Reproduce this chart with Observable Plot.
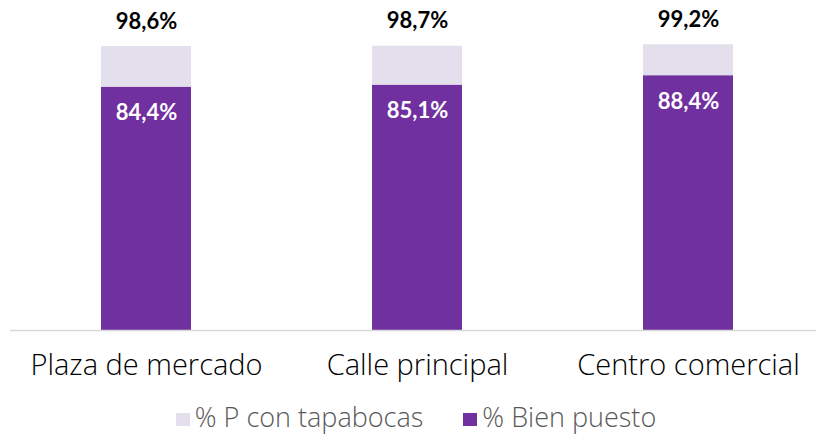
<!DOCTYPE html>
<html>
<head>
<meta charset="utf-8">
<script src="https://cdn.jsdelivr.net/npm/d3@7"></script>
<script src="https://cdn.jsdelivr.net/npm/@observablehq/plot@0.6"></script>
<style>
  html, body { margin: 0; padding: 0; background: #fff; }
  #chart { width: 816px; height: 435px; overflow: hidden; }
  .legend { box-sizing: border-box; display: flex; justify-content: center; align-items: center; height: 37px;
            font-family: "Open Sans", sans-serif; font-weight: 300; font-size: 27px; line-height: 30px; color: #595959; padding-left: 16px; padding-top: 1px; }
  .legend .item { display: flex; align-items: center; margin: 0 20px; }
  .legend .sw { width: 14px; height: 13px; margin-right: 5px; margin-top: 4px; }
</style>
</head>
<body>
<div id="chart"></div>
<script>
const categories = ["Plaza de mercado", "Calle principal", "Centro comercial"];
const conTapabocas = [98.6, 98.7, 99.2];
const bienPuesto = [84.4, 85.1, 88.4];
const seriesNames = ["% P con tapabocas", "% Bien puesto"];
const seriesColors = ["#e4dfec", "#7030a0"];

const fmt = v => v.toFixed(1).replace(".", ",") + "%";
const rows = categories.map((c, i) => ({cat: c, total: conTapabocas[i], bien: bienPuesto[i]}));

const plot = Plot.plot({
  width: 816,
  height: 398,
  marginTop: 42,
  marginBottom: 68,
  marginLeft: 10,
  marginRight: 0,
  style: {fontFamily: "Open Sans, sans-serif", background: "#fff"},
  x: {domain: categories, paddingInner: 0.668, paddingOuter: 0.321, align: 0.523, label: null},
  y: {domain: [0, 100], axis: null},
  marks: [
    Plot.barY(rows, {x: "cat", y: "total", fill: seriesColors[0]}),
    Plot.barY(rows, {x: "cat", y: "bien", fill: seriesColors[1]}),
    Plot.ruleY([0], {stroke: "#d9d9d9", strokeWidth: 1.5}),
    Plot.axisX({tickSize: 0, tickPadding: 24, fontSize: 29, fontWeight: 300, fill: "#000", label: null}),
    Plot.text(rows, {x: "cat", y: "total", text: d => fmt(d.total), dy: -25, fontSize: 22, fontWeight: "bold", fontFamily: "Lato, sans-serif", fill: "#000"}),
    Plot.text(rows, {x: "cat", y: "bien", text: d => fmt(d.bien), dy: 26, fontSize: 22, fontWeight: "bold", fontFamily: "Lato, sans-serif", fill: "#fff"})
  ]
});
const chart = document.getElementById("chart");
chart.appendChild(plot);

const legend = document.createElement("div");
legend.className = "legend";
seriesNames.forEach((name, i) => {
  const item = document.createElement("div");
  item.className = "item";
  const sw = document.createElement("span");
  sw.className = "sw";
  sw.style.background = seriesColors[i];
  const label = document.createElement("span");
  label.textContent = name;
  item.appendChild(sw);
  item.appendChild(label);
  legend.appendChild(item);
});
chart.appendChild(legend);
</script>
</body>
</html>
